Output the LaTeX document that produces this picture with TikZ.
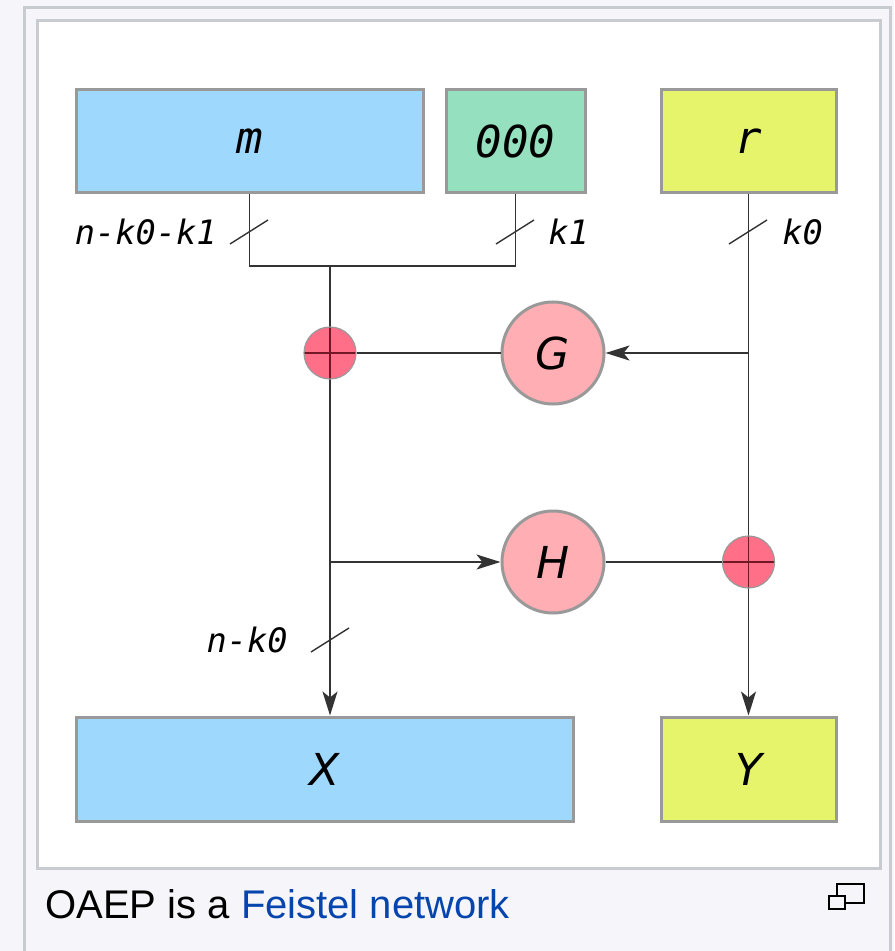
\documentclass[tikz,border=0pt]{standalone}
\usepackage{fontspec}
\setmainfont{Liberation Sans}
\newfontfamily\labelfont{DejaVu Sans Mono}
\usetikzlibrary{arrows.meta}
\definecolor{msgblue}{HTML}{9FD8FD}
\definecolor{padgreen}{HTML}{95E0BF}
\definecolor{randyellow}{HTML}{E6F46B}
\definecolor{hashpink}{HTML}{FFAFB4}
\definecolor{xorred}{HTML}{FF3356}
\definecolor{boxgray}{HTML}{999999}
\definecolor{framegray}{HTML}{C8CCD1}
\definecolor{pagebg}{HTML}{F6F6FA}
\definecolor{linkblue}{HTML}{0645AD}
\begin{document}
\begin{tikzpicture}[x=0.5pt,y=0.5pt]
    \tikzstyle{every node}+=[inner sep=0pt]
    \tikzset{
      block/.style={draw=boxgray,line width=1.5pt,font=\labelfont\itshape\fontsize{22}{26}\selectfont},
      hashfn/.style={circle,draw=boxgray,line width=1.5pt,fill=hashpink,minimum size=51pt,font=\fontsize{22}{26}\selectfont\itshape},
      xorop/.style={circle,draw=boxgray,line width=0.6pt,fill=xorred,fill opacity=0.7,minimum size=26pt,
        path picture={\draw [xorred!45!black,line width=0.9pt]
          (path picture bounding box.west) -- (path picture bounding box.east)
          (path picture bounding box.north) -- (path picture bounding box.south);}},
      wire/.style={draw=black!80,line width=0.9pt},
      tip/.style={-{Stealth[length=12pt,width=7.5pt,inset=3pt]}},
      bitlabel/.style={font=\labelfont\itshape\fontsize{16.8}{20}\selectfont}
    }
    % frame and caption
    \fill [pagebg] (0,0) rectangle (894,-951);
    \useasboundingbox (0,0) rectangle (894,-951);
    \draw [framegray,line width=1.5pt] (24,-960) -- (24,-8) -- (890,-8) -- (890,-960);
    \draw [framegray,line width=1.5pt,fill=white] (37,-21) rectangle (880,-868);
    \node [anchor=base west,font=\fontsize{20}{24}\selectfont] (cap) at (45,-918) {OAEP is a \textcolor{linkblue}{Feistel network}};
    \draw [black,line width=1.2pt] (837,-884) rectangle (864,-903);
    \draw [black,line width=1.2pt,fill=pagebg] (829,-896) rectangle (845,-909);
    % inputs
    \node [block,fill=msgblue,minimum width=173.5pt,minimum height=51.5pt] (m) at (249.5,-141.5) {m};
    \node [block,fill=padgreen,minimum width=69.5pt,minimum height=51.5pt] (pad) at (515.5,-141.5) {000};
    \node [block,fill=randyellow,minimum width=87.5pt,minimum height=51.5pt] (r) at (748.5,-141.5) {r};
    % outputs
    \node [block,fill=msgblue,minimum width=248.5pt,minimum height=52pt] (X) at (324.5,-769) {\fontspec{DejaVu Sans}\itshape X};
    \node [block,fill=randyellow,minimum width=87.5pt,minimum height=52pt] (Y) at (748.5,-769) {\fontspec{DejaVu Sans}\itshape Y};
    % round functions
    \coordinate (jn) at (330,-266);
    \node [hashfn] (G) at (553,-353) {\fontspec{DejaVu Sans}\itshape G};
    \node [hashfn] (H) at (553,-562) {\fontspec{DejaVu Sans}\itshape H};
    % wires
    \draw [wire] (m.south) |- (jn) -| (pad.south);
    \draw [wire,tip] (jn) -- (X.north -| jn);
    \draw [wire,tip] (r.south) -- (Y.north);
    \draw [wire,tip] (G.east -| r.south) -- (G.east);
    \draw [wire,tip] (H.west -| jn) -- (H.west);
    \node [xorop] (x1) at (G -| jn) {};
    \node [xorop] (x2) at (H -| r.south) {};
    \draw [wire] (G.west) -- (x1.east);
    \draw [wire] (H.east) -- (x2.west);
    % bit widths
    \foreach \p in {(249,-232),(515,-232),(748,-232),(330,-640)}
      \draw [wire,line width=0.7pt] \p ++(-19,-12) -- ++(38,24);
    \node [bitlabel,anchor=east] (lm) at (217,-232) {n-k0-k1};
    \node [bitlabel,anchor=west] (lpad) at (548,-232) {k1};
    \node [bitlabel,anchor=west] (lr) at (782,-232) {k0};
    \node [bitlabel,anchor=east] (lx) at (288,-640) {n-k0};
\end{tikzpicture}
\end{document}
